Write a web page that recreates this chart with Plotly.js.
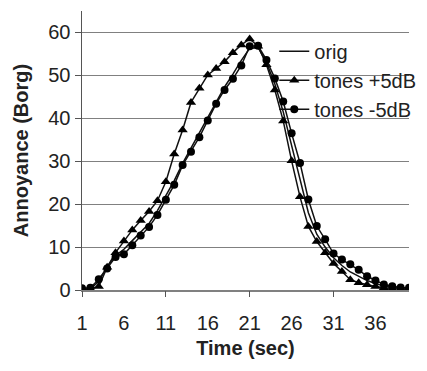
<!DOCTYPE html>
<html>
<head>
<meta charset="utf-8">
<script src="https://cdn.plot.ly/plotly-3.0.1.min.js"></script>
<style>html,body{margin:0;padding:0;background:#fff;}#chart{width:427px;height:371px;}</style>
</head>
<body>
<div id="chart"></div>
<script>
const time = [1,2,3,4,5,6,7,8,9,10,11,12,13,14,15,16,17,18,19,20,21,22,23,24,25,26,27,28,29,30,31,32,33,34,35,36,37,38,39,40];
const orig = [0.2,0.3,2.0,5.5,8.0,9.5,11.5,13.5,15.5,18.5,22.0,25.5,29.5,33.0,36.5,40.0,43.8,47.3,50.3,53.5,56.3,56.5,53.0,48.0,41.5,33.5,25.5,18.0,13.0,10.0,7.5,5.7,4.2,3.2,2.2,1.5,0.9,0.6,0.4,0.3];
const tonesPlus5 = [0.2,0.3,0.8,5.3,8.7,11.4,14.0,16.2,18.3,20.8,25.2,31.7,37.3,43.7,47.0,50.1,51.6,53.2,55.3,57.1,58.5,56.8,52.5,46.6,39.4,30.1,21.7,14.8,11.3,8.7,6.2,4.3,2.4,1.7,1.2,0.8,0.5,0.3,0.2,0.1];
const tonesMinus5 = [0.4,0.5,2.5,5.0,7.7,8.3,10.4,12.7,14.7,17.5,21.0,24.5,29.1,32.2,35.6,39.5,43.4,46.6,49.2,52.3,56.8,56.9,53.6,49.3,43.9,36.5,29.6,21.1,14.9,11.8,8.5,7.1,6.0,4.7,3.2,2.2,1.3,0.9,0.6,0.5];
const xLabelVals = [1,6,11,16,21,26,31,36];
const xTickMarkVals = [1,11,21,31];
const yTickVals = [0,10,20,30,40,50,60];

const FONT = 'Liberation Sans, Arial, Helvetica, sans-serif';
const traces = [
  {x: time, y: orig, name: 'orig', type: 'scatter', mode: 'lines',
   line: {color: '#111', width: 1.5}},
  {x: time, y: tonesPlus5, name: 'tones +5dB', type: 'scatter', mode: 'lines+markers',
   line: {color: '#111', width: 1.5}, marker: {symbol: 'triangle-up', size: 9, color: '#000'}},
  {x: time, y: tonesMinus5, name: 'tones -5dB', type: 'scatter', mode: 'lines+markers',
   line: {color: '#111', width: 1.5}, marker: {symbol: 'circle', size: 8, color: '#000'}},
  {x: [1], y: [0], xaxis: 'x2', yaxis: 'y', type: 'scatter', mode: 'markers', showlegend: false,
   hoverinfo: 'skip', marker: {opacity: 0}}
];
const layout = {
  width: 427, height: 371,
  margin: {l: 82, r: 6, t: 11, b: 81},
  paper_bgcolor: '#fff', plot_bgcolor: '#fff',
  font: {family: FONT, size: 20, color: '#222'},
  showlegend: true,
  legend: {x: 0.588, y: 0.926, xanchor: 'left', yanchor: 'top', bgcolor: 'rgba(0,0,0,0)',
           font: {family: FONT, size: 20, color: '#222'}, tracegroupgap: 0},
  shapes: [{type: 'rect', xref: 'paper', yref: 'paper', x0: 0.6, x1: 1.02, y0: 0.6, y1: 0.93,
            layer: 'between', fillcolor: '#fff', line: {width: 0}}],
  xaxis: {range: [1, 40], tickmode: 'array', tickvals: xLabelVals, ticktext: xLabelVals.map(String),
          ticks: '', showgrid: false, zeroline: false, showline: true, linecolor: '#808080', linewidth: 1.5,
          ticklabelstandoff: 14, tickfont: {size: 20, color: '#222'},
          title: {text: '<b>Time (sec)</b>', font: {size: 20, color: '#222'}, standoff: 8}},
  xaxis2: {overlaying: 'x', anchor: 'y', range: [1, 40], side: 'bottom', tickmode: 'array',
           tickvals: xTickMarkVals, showticklabels: false, ticks: 'outside', ticklen: 6,
           tickcolor: '#555', tickwidth: 1, showgrid: false, zeroline: false, showline: false},
  yaxis: {range: [0, 65], tickmode: 'array', tickvals: yTickVals, ticks: 'outside', ticklen: 6,
          tickcolor: '#555', showgrid: true, gridcolor: '#808080', gridwidth: 1, zeroline: false,
          showline: true, linecolor: '#555', linewidth: 1.5, tickfont: {size: 20, color: '#222'},
          title: {text: '<b>Annoyance (Borg)</b>', font: {size: 20, color: '#222'}, standoff: 14}}
};
Plotly.newPlot('chart', traces, layout, {displayModeBar: false, staticPlot: true});
</script>
</body>
</html>
